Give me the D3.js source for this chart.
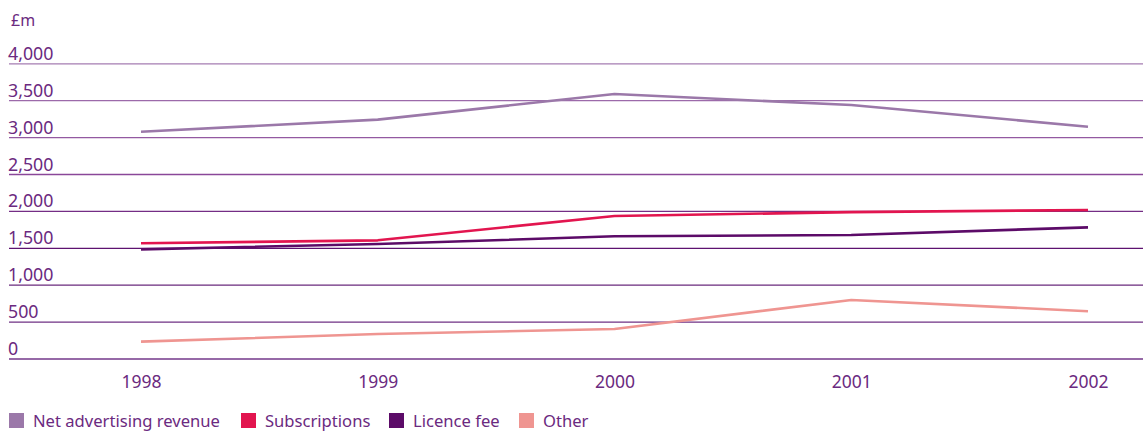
<!DOCTYPE html>
<html>
<head>
<meta charset="utf-8">
<script src="https://cdn.jsdelivr.net/npm/d3@7"></script>
<style>
  html, body { margin: 0; padding: 0; background: #fff; }
  svg text { font-family: "Noto Sans", "Open Sans", sans-serif; fill: #6b2a80; }
</style>
</head>
<body>
<svg id="chart" width="1148" height="432"></svg>
<script>
// Revenue by source, £m
const years = ["1998", "1999", "2000", "2001", "2002"];
const netAdvertising = [3080, 3243, 3591, 3442, 3148];
const subscriptions = [1568, 1608, 1938, 1990, 2019];
const licenceFee = [1486, 1558, 1663, 1680, 1784];
const other = [235, 339, 407, 800, 648];
const yTicks = [0, 500, 1000, 1500, 2000, 2500, 3000, 3500, 4000];

const seriesNames = ["Net advertising revenue", "Subscriptions", "Licence fee", "Other"];
const seriesValues = [netAdvertising, subscriptions, licenceFee, other];
const seriesColors = ["#9b78a9", "#e2154f", "#5c0b68", "#ef9591"];

const svg = d3.select("#chart");
const plotLeft = 9, plotRight = 1143, plotTop = 63.8, plotBottom = 359;

const x = d3.scalePoint().domain(years).range([141, 1088]);
const y = d3.scaleLinear().domain([0, 4000]).range([plotBottom, plotTop]);

// gridline tint shifts from light at the top to deep purple lower down
const gridColor = d3.scaleLinear()
  .domain([0, 1000, 1500, 2500, 4000])
  .range(["#73378a", "#6a2a7d", "#5e1270", "#8a4799", "#a57cb2"]);

const grid = svg.append("g");
grid.selectAll("line").data(yTicks).join("line")
  .attr("x1", plotLeft).attr("x2", plotRight)
  .attr("y1", d => y(d)).attr("y2", d => y(d))
  .attr("stroke", d => gridColor(d)).attr("stroke-width", 1.3);

grid.selectAll("text").data(yTicks).join("text")
  .attr("x", 8).attr("y", d => y(d) - 4)
  .attr("font-size", 17.8)
  .text(d => d3.format(",")(d));

svg.append("text").attr("x", 11).attr("y", 26).attr("font-size", 16).text("£m");

// x axis labels
const xAxis = svg.append("g").attr("transform", `translate(0,${plotBottom})`)
  .call(d3.axisBottom(x).tickSize(0).tickPadding(0));
xAxis.select(".domain").remove();
xAxis.selectAll("text")
  .attr("dy", null).attr("y", 29)
  .attr("font-size", 17.5)
  .style("font-family", '"Noto Sans", "Open Sans", sans-serif')
  .attr("fill", "#6b2a80");

// series lines
const line = d3.line().x((d, i) => x(years[i])).y(d => y(d));
svg.append("g").selectAll("path").data(seriesValues).join("path")
  .attr("d", d => line(d))
  .attr("fill", "none")
  .attr("stroke", (d, i) => seriesColors[i])
  .attr("stroke-width", 2.6)
  .attr("stroke-linejoin", "round");

// legend
const legendX = [9, 241, 389, 519];
const legend = svg.append("g").selectAll("g").data(seriesNames).join("g")
  .attr("transform", (d, i) => `translate(${legendX[i]},413)`);
legend.append("rect").attr("width", 15).attr("height", 15)
  .attr("fill", (d, i) => seriesColors[i]);
legend.append("text").attr("x", 24).attr("y", 14).attr("font-size", 16.6)
  .text(d => d);
</script>
</body>
</html>
